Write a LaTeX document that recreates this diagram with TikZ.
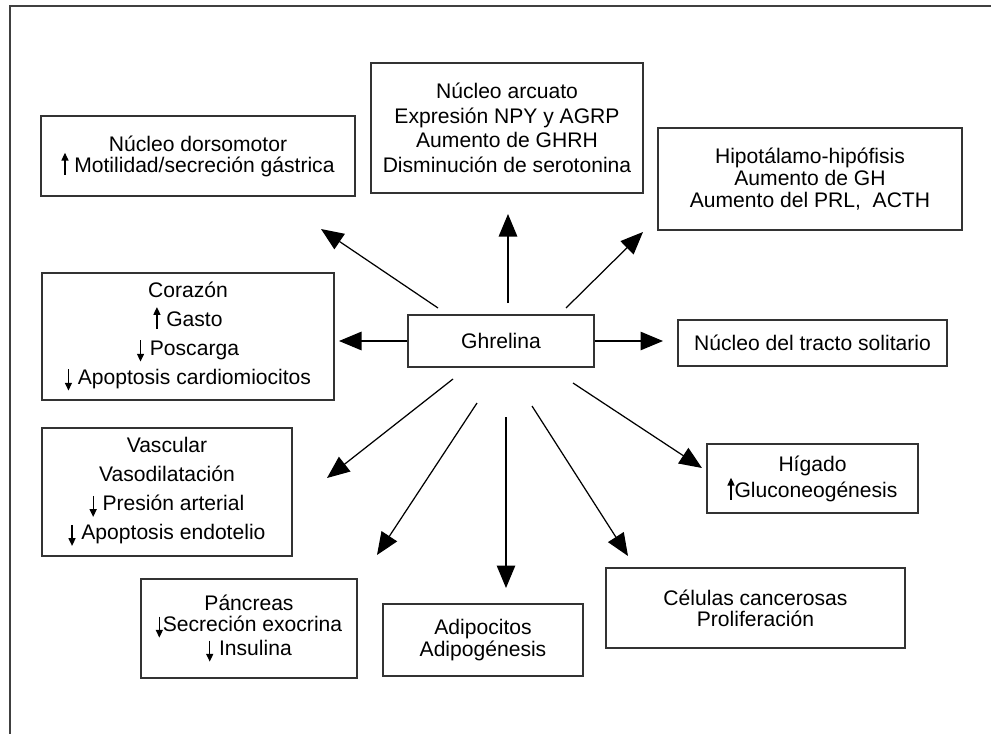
\documentclass[tikz,border=0pt]{standalone}
\usepackage{fontspec}
\setmainfont{Liberation Sans}
\usetikzlibrary{arrows.meta}

% small arrows inside the box texts
\newcommand{\sube}{\tikz[baseline=0pt]\draw[line width=0.65pt,-{Triangle[length=4.4pt,width=4pt]}] (0pt,-1.5pt) -- (0pt,11pt);}
\newcommand{\baja}{\tikz[baseline=0pt]\draw[line width=0.65pt,-{Triangle[length=4.4pt,width=4pt]}] (0pt,8.5pt) -- (0pt,-3.5pt);}

\begin{document}
\begin{tikzpicture}[x=0.2mm, y=-0.2mm,
    every node/.style={font=\fontsize{12}{12}\selectfont},
    caja/.style={rectangle, draw=black!80, line width=0.8pt, inner sep=0pt, align=center},
    flecha/.style={line width=0.7pt, -{Triangle[length=0.45cm,width=0.37cm]}},
    marco/.style={draw=black!75, line width=1pt}
  ]
    \useasboundingbox (0,0) rectangle (991,734);
    \draw[marco] (10,734) -- (10,6) -- (991,6);

    \node[caja, minimum width=3.72cm, minimum height=1.04cm] (ghrelina) at (501,341) {Ghrelina};

    \node[caja, minimum width=6.28cm, minimum height=1.6cm] (dorsomotor) at (198,156) {Núcleo dorsomotor\\\sube\ Motilidad/secreción gástrica};
    \node[caja, minimum width=5.44cm, minimum height=2.6cm, font=\fontsize{12}{14}\selectfont] (arcuato) at (507,128) {Núcleo arcuato\\Expresión NPY y AGRP\\Aumento de GHRH\\Disminución de serotonina};
    \node[caja, minimum width=6.08cm, minimum height=2.04cm, font=\fontsize{12}{12.5}\selectfont] (hipotalamo) at (810,179) {Hipotálamo-hipófisis\\Aumento de GH\\Aumento del PRL,\ \ ACTH};
    \node[caja, minimum width=5.84cm, minimum height=2.54cm, font=\fontsize{12}{16.5}\selectfont] (corazon) at (188,336.5) {Corazón\\\sube\ Gasto\\\baja\ Poscarga\\\baja\ Apoptosis cardiomiocitos};
    \node[caja, minimum width=5.38cm, minimum height=0.92cm] (solitario) at (812.5,343) {Núcleo del tracto solitario};
    \node[caja, minimum width=5.0cm, minimum height=2.56cm, font=\fontsize{12}{16.5}\selectfont] (vascular) at (167,492) {Vascular\\Vasodilatación\\\baja\ Presión arterial\\\baja\ Apoptosis endotelio};
    \node[caja, minimum width=4.22cm, minimum height=1.38cm] (higado) at (812.5,478.5) {Hígado\\\sube Gluconeogénesis};
    \node[caja, minimum width=4.32cm, minimum height=1.98cm] (pancreas) at (249,628.5) {Páncreas\\\baja Secreción exocrina\\\baja\ Insulina};
    \node[caja, minimum width=4.0cm, minimum height=1.44cm] (adipocitos) at (483,640) {Adipocitos\\Adipogénesis};
    \node[caja, minimum width=5.98cm, minimum height=1.6cm] (celulas) at (755.5,608) {Células cancerosas\\Proliferación};

    % arrows start near ghrelina and stop short of the boxes
    \coordinate (s-dorso) at (438,308);   \coordinate (t-dorso) at (321,229);
    \coordinate (s-arc) at (508,303);     \coordinate (t-arc) at (508,214);
    \coordinate (s-hipo) at (566,308);    \coordinate (t-hipo) at (643,232);
    \coordinate (t-cora) at (339,341);
    \coordinate (t-soli) at (663,341);
    \coordinate (s-vasc) at (453,379);    \coordinate (t-vasc) at (327,478);
    \coordinate (s-panc) at (477,403);    \coordinate (t-panc) at (377,555);
    \coordinate (s-adip) at (506,417);    \coordinate (t-adip) at (506,588);
    \coordinate (s-celu) at (532,406);    \coordinate (t-celu) at (628,556);
    \coordinate (s-higa) at (573,383);    \coordinate (t-higa) at (702,468);

    \foreach \desde/\hasta in {s-dorso/t-dorso, s-arc/t-arc, s-hipo/t-hipo, ghrelina.west/t-cora, ghrelina.east/t-soli,
        s-vasc/t-vasc, s-panc/t-panc, s-adip/t-adip, s-celu/t-celu, s-higa/t-higa} {
      \draw[flecha] (\desde) -- (\hasta);
    }
  \end{tikzpicture}
\end{document}
